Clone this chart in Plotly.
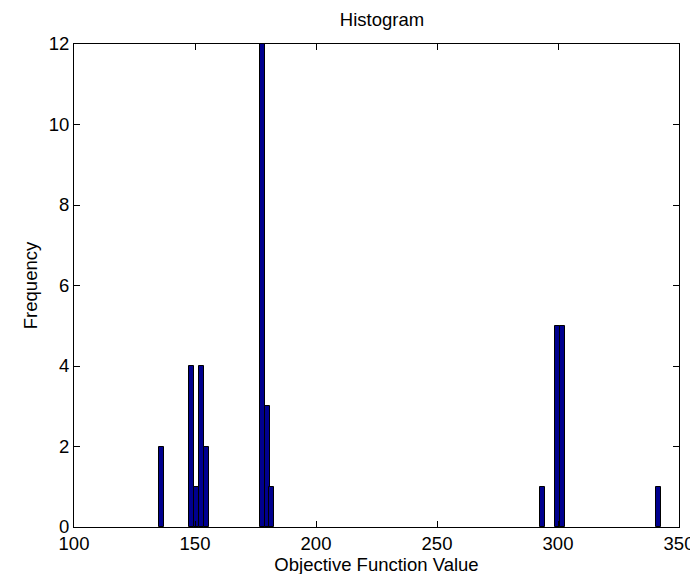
import plotly.graph_objects as go

# Histogram bins (bin centers) and counts
bin_centers = [136.2, 148.6, 150.7, 152.8, 154.8, 177.7, 179.8, 181.8, 293.6, 299.8, 301.8, 341.4]
counts = [2, 4, 1, 4, 2, 12, 3, 1, 1, 5, 5, 1]
bin_width = 2.07

x_ticks = [100, 150, 200, 250, 300, 350]
y_ticks = [0, 2, 4, 6, 8, 10, 12]

FONT = "Liberation Sans, Arial, Helvetica, sans-serif"
FS = 18.5

fig = go.Figure(
    go.Bar(
        x=bin_centers,
        y=counts,
        width=[bin_width] * len(bin_centers),
        marker=dict(color="#00008F", line=dict(color="black", width=1)),
    )
)

axis_common = dict(
    showgrid=False,
    zeroline=False,
    showline=True,
    linecolor="black",
    linewidth=1,
    mirror="ticks",
    ticks="inside",
    ticklen=6,
    tickcolor="black",
    tickfont=dict(family=FONT, size=FS, color="black"),
)

fig.update_layout(
    width=698,
    height=574,
    margin=dict(l=66, r=16, t=36, b=55),
    paper_bgcolor="white",
    plot_bgcolor="white",
    showlegend=False,
    bargap=0,
    title=dict(
        text="Histogram",
        font=dict(family=FONT, size=FS, color="black"),
        x=(66 + 682) / 2 / 698,
        xanchor="center",
        y=1 - 12 / 574,
        yanchor="middle",
    ),
    xaxis=dict(
        range=[100, 350],
        tickvals=x_ticks,
        title=dict(text="Objective Function Value", font=dict(family=FONT, size=FS, color="black"), standoff=2),
        **axis_common,
    ),
    yaxis=dict(
        range=[0, 12],
        tickvals=y_ticks,
        title=dict(text="Frequency", font=dict(family=FONT, size=FS, color="black"), standoff=6),
        **axis_common,
    ),
)

fig.write_html("out.html")
